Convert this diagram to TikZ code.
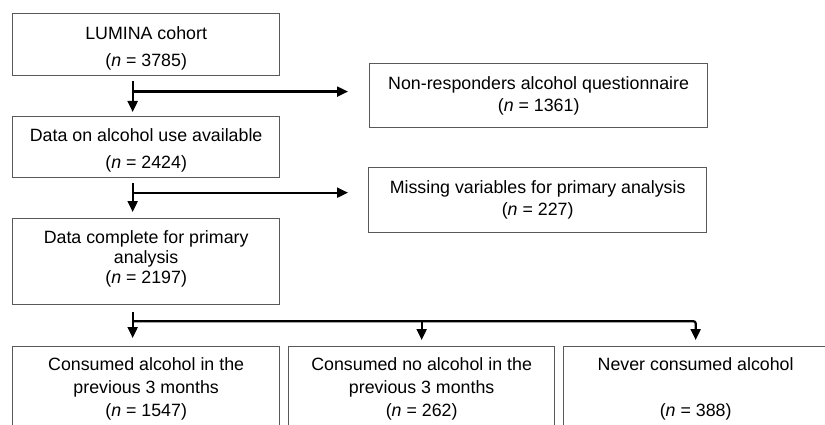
\documentclass[tikz,border=0pt]{standalone}
\usepackage{fontspec}
\setmainfont{Liberation Sans}
\usetikzlibrary{arrows.meta, positioning, calc}
\tikzset{
        box/.style={draw=black!65, line width=1.3pt, inner sep=0pt, align=center, anchor=north west,
          font=\fontsize{17.8}{22}\selectfont}, % every box of the chart
        wide/.style={font=\fontsize{17.8}{27}\selectfont}, % boxes with looser lines
        flow/.style={line width=2.2pt, -{Triangle[width=10pt,length=11pt]}}, % the arrows
    }

\begin{document}
\begin{tikzpicture}[x=1pt, y=-1pt]
    \useasboundingbox (0,0) rectangle (825,425);
    \clip (0,0) rectangle (825,425);
    % main column
    \node[box, wide, minimum width=267pt, minimum height=62.5pt] (A) at (12,12.7) {\rule{0pt}{20pt}LUMINA cohort\\(\textit{n} = 3785)};
    \node[box, wide, minimum width=267pt, minimum height=61pt] (B) at (12,116) {\rule{0pt}{20pt}Data on alcohol use available\\(\textit{n} = 2424)};
    \node[box, font=\fontsize{17.8}{20}\selectfont, minimum width=267pt, minimum height=86pt] (C) at (12,218) {Data complete for primary\\analysis\\(\textit{n} = 2197)\rule[-10pt]{0pt}{10pt}};
    % exclusions
    \node[box, minimum width=338pt, minimum height=64.5pt] (NR) at (369,62.7) {Non-responders alcohol questionnaire\\(\textit{n} = 1361)};
    \node[box, minimum width=338pt, minimum height=65pt] (MV) at (368,167) {Missing variables for primary analysis\\(\textit{n} = 227)};
    % groups
    \node[box, font=\fontsize{17.8}{23}\selectfont, minimum width=267pt, minimum height=84pt] (D) at (12,346) {Consumed alcohol in the\\previous 3 months\\(\textit{n} = 1547)};
    \node[box, font=\fontsize{17.8}{23}\selectfont, minimum width=266pt, minimum height=84pt] (E) at (288,346) {Consumed no alcohol in the\\previous 3 months\\(\textit{n} = 262)};
    \node[box, font=\fontsize{17.8}{23}\selectfont, minimum width=264pt, minimum height=84pt] (F) at (563,346) {Never consumed alcohol\\ \\(\textit{n} = 388)};

    \coordinate (a1) at ([xshift=-13.5pt]A.south);
    \coordinate (h1) at ([xshift=-21pt,yshift=4pt]NR.west);
    \coordinate (h2) at ([xshift=-20pt,yshift=7.5pt]MV.west);
    \coordinate (h3) at ([yshift=-16pt]C.south);

    \draw[flow] ([xshift=-13.5pt,yshift=-5pt]A.south) -- ([xshift=-13.5pt,yshift=4pt]B.north);
    \draw[flow] (a1 |- h1) -- (h1);
    \draw[flow] ([xshift=-13.5pt,yshift=-5pt]B.south) -- ([xshift=-13.5pt,yshift=6pt]C.north);
    \draw[flow] (a1 |- h2) -- (h2);
    \draw[flow] ([xshift=-13.5pt,yshift=-7pt]C.south) -- ([xshift=-13.5pt,yshift=8pt]D.north);
    \draw[flow, rounded corners=2pt] (a1 |- h3) -- (F.north |- h3) -- ([yshift=6pt]F.north);
    \draw[flow] (E.north |- h3) -- ([yshift=6pt]E.north);
  \end{tikzpicture}
\end{document}
